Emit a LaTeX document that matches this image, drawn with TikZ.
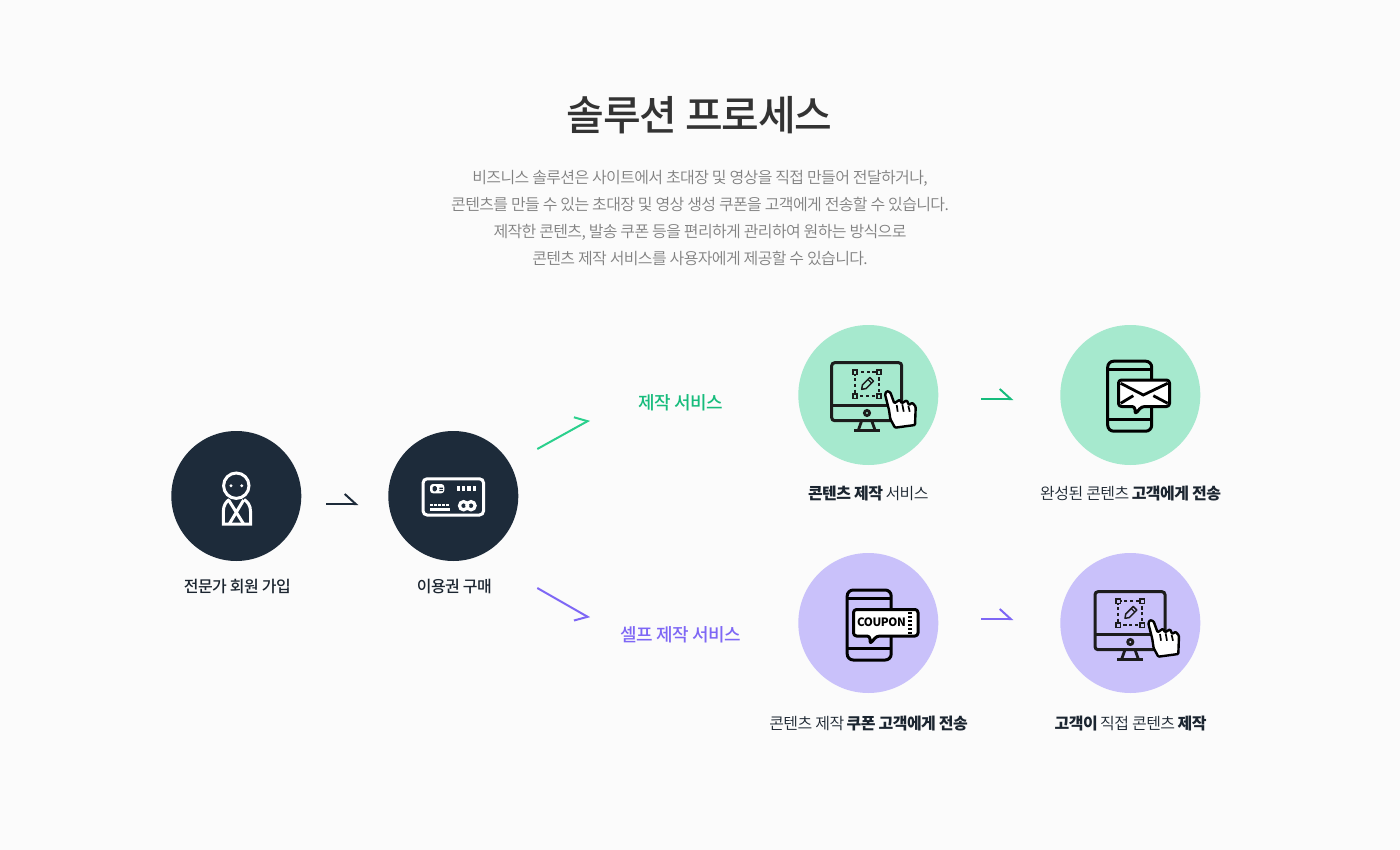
\documentclass[tikz,border=0pt]{standalone}
\usepackage{fontspec}
\setmainfont{Noto Sans CJK KR}[LetterSpace=-3.5]
\newfontfamily\lightkr{Noto Sans CJK KR DemiLight}[LetterSpace=-3.5]
\newfontfamily\introkr{Noto Sans CJK KR DemiLight}[LetterSpace=-4]
\newfontfamily\mediumkr{Noto Sans CJK KR Medium}[LetterSpace=-3.5]
\newfontfamily\headkr{Noto Sans CJK KR Medium}[LetterSpace=-3]
\usetikzlibrary{arrows.meta, positioning, calc}
\definecolor{pagebg}{HTML}{FBFBFB}
\definecolor{stagenavy}{HTML}{1D2B3A}
\definecolor{stagemint}{HTML}{A6E9CE}
\definecolor{stageviolet}{HTML}{C9C1FA}
\definecolor{makegreen}{HTML}{16BC7C}
\definecolor{makeline}{HTML}{2BD08D}
\definecolor{selfviolet}{HTML}{7E67F5}
\definecolor{titlegray}{HTML}{333333}
\definecolor{bodygray}{HTML}{808080}
\definecolor{capink}{HTML}{1B2530}
\definecolor{iconink}{HTML}{1C1C1C}

\tikzset{
  pics/monitoricon/.style={code={
    \draw[iconink, line width=3pt, rounded corners=3pt] (-35,-29) rectangle (35,29);
    \draw[iconink, line width=3pt] (-35,13.3) -- (35,13.3);
    \draw[iconink, line width=2.8pt] (0.3,21.3) circle (2.6);
    \draw[iconink, line width=2.8pt] (-5,29) -- (-8.4,38.5) (5,29) -- (8.4,38.5);
    \draw[iconink, line width=2.8pt] (-12.7,39) -- (13.3,39);
    \draw[iconink, line width=1.8pt, dash pattern=on 3.2pt off 2.6pt] (-11.7,-19.4) rectangle (12.3,4.6);
    \foreach \cx/\cy in {-11.7/-19.4, 12.3/-19.4, -11.7/4.6, 12.3/4.6}
      \draw[iconink, line width=1.6pt, fill=#1] (\cx-2.1,\cy-2.1) rectangle (\cx+2.1,\cy+2.1);
    % Pencil
    \draw[iconink, line width=1.5pt, line join=round] (-5,-2.4) -- (-0.7,-3.1) -- (6.8,-10.6)
      -- (3.2,-14.2) -- (-4.3,-6.7) -- cycle;
    \draw[iconink, line width=1.2pt] (4.8,-8.6) -- (1.2,-12.2);
    % Hand
    \draw[black, fill=white, line width=2.4pt, line join=round, rounded corners=1pt]
      (20,-0.7) -- (18.3,2.6) -- (22.3,18.3) -- (23.6,27.3) -- (28.3,36) -- (48.3,33.3)
      -- (49,15) -- (45.6,11) -- (42.3,13.3) -- (40,8.6) -- (35,11.6) -- (33,8)
      -- (27.6,11.6) -- (23.6,0.6) -- cycle;
    \draw[black, line width=1.7pt] (30,13.3) -- (31,20) (35.6,12.6) -- (37,20) (41.6,14) -- (43,20);
  }},
  pics/phoneicon/.style={code={
    \draw[black, line width=3pt, rounded corners=6pt] (-22,-35) rectangle (22,35);
    \draw[black, line width=3pt] (-22,-27) -- (22,-27) (-22,23.5) -- (22,23.5);
  }}
}

\begin{document}
\begin{tikzpicture}[
  x=1pt, y=-1pt,
  stage/.style={circle, fill=#1, minimum size=130pt, inner sep=0pt, outer sep=0pt},
  bigstage/.style={stage=#1, minimum size=140pt},
  caption/.style={font=\fontsize{16}{20}\selectfont, text=capink, inner sep=0pt},
  route/.style={font=\mediumkr\fontsize{18}{22}\selectfont, text=#1, inner sep=0pt},
  nudge/.style={line width=2pt, draw=#1},
  bubble/.style={draw=black, fill=white, line width=3pt, rounded corners=3pt, line join=round},
]
  \useasboundingbox (0,0) rectangle (1400,850);
  \fill[pagebg] (0,0) rectangle (1400,850);

  \node[font=\headkr\fontsize{41}{46}\selectfont, text=titlegray, inner sep=0pt] (heading) at (699.5,115) {솔루션 프로세스};
  \node[font=\introkr\fontsize{16}{27}\selectfont, text=bodygray, align=center, inner sep=0pt] (intro) at (700,218)
    {비즈니스 솔루션은 사이트에서 초대장 및 영상을 직접 만들어 전달하거나,\\
     콘텐츠를 만들 수 있는 초대장 및 영상 생성 쿠폰을 고객에게 전송할 수 있습니다.\\
     제작한 콘텐츠, 발송 쿠폰 등을 편리하게 관리하여 원하는 방식으로\\
     콘텐츠 제작 서비스를 사용자에게 제공할 수 있습니다.};

  \node[stage=stagenavy] (member) at (236.3,496) {};
  \node[stage=stagenavy] (voucher) at (453.3,496) {};
  \node[bigstage=stagemint] (makeup) at (868.3,395) {};
  \node[bigstage=stagemint] (mailout) at (1130.3,395) {};
  \node[bigstage=stageviolet] (coupon) at (868.3,623) {};
  \node[bigstage=stageviolet] (selfmake) at (1130.3,623) {};

  \node[caption, below=17.5pt of member, xshift=1pt] (membertxt) {\mediumkr 전문가 회원 가입};
  \node[caption, below=17.5pt of voucher, xshift=1pt] (vouchertxt) {\mediumkr 이용권 구매};
  \node[caption, below=21pt of makeup] (makeuptxt) {\textbf{콘텐츠 제작} {\lightkr 서비스}};
  \node[caption, below=21pt of mailout] (mailouttxt) {{\lightkr 완성된 콘텐츠} \textbf{고객에게 전송}};
  \node[caption, below=23pt of coupon] (coupontxt) {{\lightkr 콘텐츠 제작} \textbf{쿠폰 고객에게 전송}};
  \node[caption, below=23pt of selfmake] (selfmaketxt) {\textbf{고객이} {\lightkr 직접 콘텐츠} \textbf{제작}};

  \node[route=makegreen] (makeroute) at (680.5,403) {제작 서비스};
  \node[route=selfviolet] (selfroute) at (680.5,635) {셀프 제작 서비스};

  % Arrows
  \coordinate (a0) at ($(member.east)+(25,8)$);
  \coordinate (a1) at ($(voucher.west)+(-30,8)$);
  \coordinate (b0) at ($(voucher.east)+(19,-47)$);
  \coordinate (b1) at ($(makeroute.west)+(-48.5,17)$);
  \coordinate (c0) at ($(voucher.east)+(19,92)$);
  \coordinate (c1) at ($(selfroute.west)+(-30.5,-17)$);
  \coordinate (d0) at ($(makeup.east)+(43,4)$);
  \coordinate (d1) at ($(mailout.west)+(-47,4)$);
  \coordinate (e0) at ($(coupon.east)+(43,-4)$);
  \coordinate (e1) at ($(selfmake.west)+(-47,-4)$);

  \draw[nudge=stagenavy, -{Straight Barb[left, length=11pt, width=20pt]}] (a0) -- (a1);
  \draw[nudge=makeline, -{Straight Barb[left, length=10pt, width=20pt]}] (b0) -- (b1);
  \draw[nudge=selfviolet, -{Straight Barb[right, length=10pt, width=20pt]}] (c0) -- (c1);
  \draw[nudge=makegreen, -{Straight Barb[left, length=11pt, width=20pt]}] (d0) -- (d1);
  \draw[nudge=selfviolet, -{Straight Barb[left, length=11pt, width=20pt]}] (e0) -- (e1);

  % Person
  \begin{scope}[shift={(member.center)}, white, line width=3pt]
    \draw (0,-10.3) circle (12.7);
    \fill (-5.3,-10.3) circle (1.6) (5.4,-10.3) circle (1.6);
    \draw[line join=miter] (-7,3.5) .. controls (-10,5.5) and (-13,9) .. (-13,16) -- (-13,28)
      -- (14.3,28) -- (14.3,16) .. controls (14.3,9) and (11,5.5) .. (7.7,3.5);
    \draw (-7.7,4) -- (7.3,28) (7.3,4) -- (-7,28);
  \end{scope}

  % Card
  \begin{scope}[shift={(voucher.center)}, white]
    \draw[line width=3pt, rounded corners=4pt] (-30.2,-17.2) rectangle (30.2,19);
    \fill[rounded corners=3pt] (-23.3,-12) rectangle (-9,-2.7);
    \fill[stagenavy, rounded corners=1.5pt] (-20.8,-10) rectangle (-16.5,-4.7);
    \fill[stagenavy] (-14,-8.4) rectangle (-10.5,-7.2) (-14,-6.2) rectangle (-10.5,-5);
    \foreach \bx in {3.4,8.7,14,19.3}
      \fill (\bx,-10.3) rectangle (\bx+3.4,-5);
    \foreach \dx in {-23.5,-19.4,-15.3,-11.2,-7.1}
      \fill (\dx,8) rectangle (\dx+3,10.2);
    \fill (-23.5,12.3) rectangle (-3.5,14.8);
    \draw[line width=3.2pt] (10.3,9.7) circle (4.1) (17.7,9.7) circle (4.1);
  \end{scope}

  % Icons
  \pic at (866.7,391.7) {monitoricon=stagemint};
  \pic at (1130,620.7) {monitoricon=stageviolet};
  \pic at (1129.7,396.2) {phoneicon};
  \pic at (869.2,625) {phoneicon};

  % Mail bubble
  \draw[bubble] (1135,406.5) -- (1135,414.3) -- (1141.7,406.5) -- (1169.5,406.5) -- (1169.5,380)
    -- (1118.5,380) -- (1118.5,406.5) -- cycle;
  \draw[black, line width=2.8pt] (1120.7,383.3) -- (1143.3,395) -- (1167.7,383.3)
    (1120.7,403.3) -- (1133.3,395.7) (1153.3,395.7) -- (1167.7,403.3);

  % Coupon bubble
  \draw[bubble] (870,636) -- (870,644) -- (876.7,636) -- (918,636) -- (918,609.5)
    -- (853.5,609.5) -- (853.5,636) -- cycle;
  \node[font=\bfseries\fontsize{11.5}{14}\selectfont, text=black, inner sep=0pt] (coupontag) at (881.5,622.3) {COUPON};
  \foreach \cy in {613,617,621,625,629,633}
    \fill[black] (908.3,\cy-1.4) rectangle (911.7,\cy+1.4);
\end{tikzpicture}
\end{document}
